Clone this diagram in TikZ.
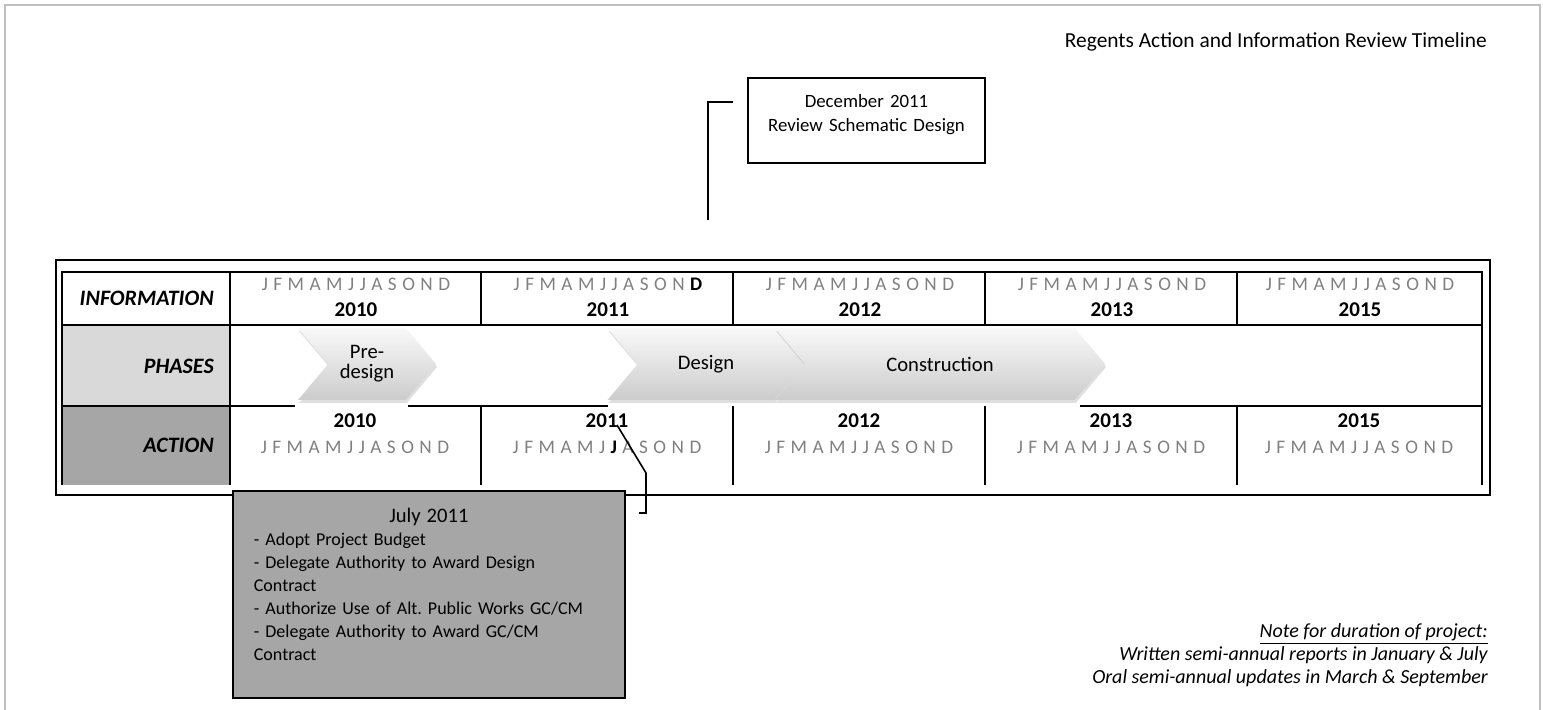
\documentclass[tikz,border=0pt]{standalone}
\usepackage{fontspec}
\setmainfont{Carlito}
\newfontfamily\monfont{Carlito}[LetterSpace=6]
\usetikzlibrary{arrows,shapes,shadows,positioning}
\tikzstyle{lbl} = [anchor=east, font=\fontsize{11pt}{13pt}\selectfont\bfseries\itshape]
\tikzstyle{mon} = [font=\fontsize{9.6pt}{12pt}\monfont, text=black!50]
\tikzstyle{yr} = [font=\fontsize{10.5pt}{12pt}\selectfont\bfseries]
\tikzstyle{grid} = [line width=1pt]
\tikzstyle{phase} = [signal, signal to=east, signal from=west,
    signal pointer angle=100, minimum height=36pt, inner sep=0pt,
    top color=gray!5, bottom color=gray!40, align=center,
    font=\fontsize{10.3pt}{10pt}\selectfont,
    drop shadow={shadow xshift=0.5pt, shadow yshift=-1.5pt, opacity=0.25}]
\tikzstyle{infobox} = [rectangle, draw, line width=0.9pt, align=center,
    text width=110pt, inner xsep=4.25pt,
    minimum width=118.5pt, minimum height=42.5pt,
    font=\fontsize{9.4pt}{12pt}\selectfont]
\tikzstyle{actbox} = [rectangle, draw, line width=0.9pt, fill=black!35,
    text width=175pt, align=left, inner xsep=10.5pt,
    minimum height=103.5pt, font=\fontsize{9pt}{11.5pt}\selectfont]
\newcommand{\hi}[1]{{\bfseries\color{black}#1}}

\begin{document}
\begin{tikzpicture}[x=0.5pt,y=-0.5pt,node distance=13pt,semithick]
  \useasboundingbox (0,0) rectangle (1543,710);
  \draw[black!25,line width=1.2pt] (5,710) -- (5,5) -- (1540,5) -- (1540,710);

  \node[anchor=east, font=\fontsize{10.7pt}{13pt}\selectfont] (title) at (1494,42)
    {Regents Action and Information Review Timeline};

  % table frame and grid
  \draw[line width=1pt] (56,260) rectangle (1490,495);
  \fill[black!15] (62,325) rectangle (230,406);
  \fill[black!35] (62,406) rectangle (230,485);
  \draw[grid] (62,485) -- (62,272) -- (1482,272) -- (1482,485);
  \draw[grid] (62,325) -- (1482,325);
  \draw[grid] (62,406) -- (295,406) (408,406) -- (608,406) (1080,406) -- (1482,406);
  \draw[grid] (230,272) -- (230,485);
  \draw[grid] (481,272) -- (481,325) (481,406) -- (481,485);
  \draw[grid] (733,272) -- (733,325) (733,406) -- (733,485);
  \draw[grid] (985,272) -- (985,325) (985,406) -- (985,485);
  \draw[grid] (1237,272) -- (1237,325) (1237,406) -- (1237,485);

  \node[lbl] (info) at (221,298) {INFORMATION};
  \node[lbl] (phases) at (221,366) {PHASES};
  \node[lbl] (action) at (221,445) {ACTION};

  % information row
  \node[mon] (i10) at (356,284) {J F M A M J J A S O N D};
  \node[yr]  (y10) [below of=i10] {2010};
  \node[mon] (i11) at (608,284) {J F M A M J J A S O N \hi{D}};
  \node[yr]  (y11) [below of=i11] {2011};
  \node[mon] (i12) at (860,284) {J F M A M J J A S O N D};
  \node[yr]  (y12) [below of=i12] {2012};
  \node[mon] (i13) at (1112,284) {J F M A M J J A S O N D};
  \node[yr]  (y13) [below of=i13] {2013};
  \node[mon] (i15) at (1360,284) {J F M A M J J A S O N D};
  \node[yr]  (y15) [below of=i15] {2015};

  % phases row
  \node[phase, minimum width=69pt]   (pre) at (367,364) {Pre-\\design};
  \node[phase, minimum width=98.5pt] (des) at (706,364) {Design};
  \node[phase, minimum width=165pt]  (con) at (940,364) {Construction};

  % action row
  \node[yr]  (z10) at (355,421) {2010};
  \node[mon] (a10) [below of=z10] {J F M A M J J A S O N D};
  \node[yr]  (z11) at (607,421) {2011};
  \node[mon] (a11) [below of=z11] {J F M A M J \hi{J} A S O N D};
  \node[yr]  (z12) at (859,421) {2012};
  \node[mon] (a12) [below of=z12] {J F M A M J J A S O N D};
  \node[yr]  (z13) at (1111,421) {2013};
  \node[mon] (a13) [below of=z13] {J F M A M J J A S O N D};
  \node[yr]  (z15) at (1359,421) {2015};
  \node[mon] (a15) [below of=z15] {J F M A M J J A S O N D};

  % review boxes
  \node[infobox] (dec) at (866.5,120.5)
    {December 2011\\Review Schematic Design\par\vspace{6pt}\kern0pt};
  \coordinate (d1) at (733,102);
  \coordinate (d2) at (708,220);
  \draw[line width=0.8pt] (d1) -| (d2);

  \node[actbox, anchor=north west] (jul) at (232,490)
    {\makebox[\hsize]{\fontsize{10.3pt}{12pt}\selectfont July 2011}\\
     - Adopt Project Budget\\
     - Delegate Authority to Award Design\\
     Contract\\
     - Authorize Use of Alt.\ Public Works GC/CM\\
     - Delegate Authority to Award GC/CM\\
     Contract\par\vspace{10pt}\kern0pt};
  \coordinate (j1) at (617,425);
  \coordinate (j2) at (646,473);
  \coordinate (j3) at (639,513);
  \draw[line width=0.8pt] (j1) -- (j2) |- (j3);

  \node[anchor=north east, align=right, font=\fontsize{10pt}{11.5pt}\selectfont\itshape]
    (note) at (1495,616)
    {\underline{Note for duration of project:}\\
     Written semi-annual reports in January \& July\\
     Oral semi-annual updates in March \& September};
\end{tikzpicture}
\end{document}
